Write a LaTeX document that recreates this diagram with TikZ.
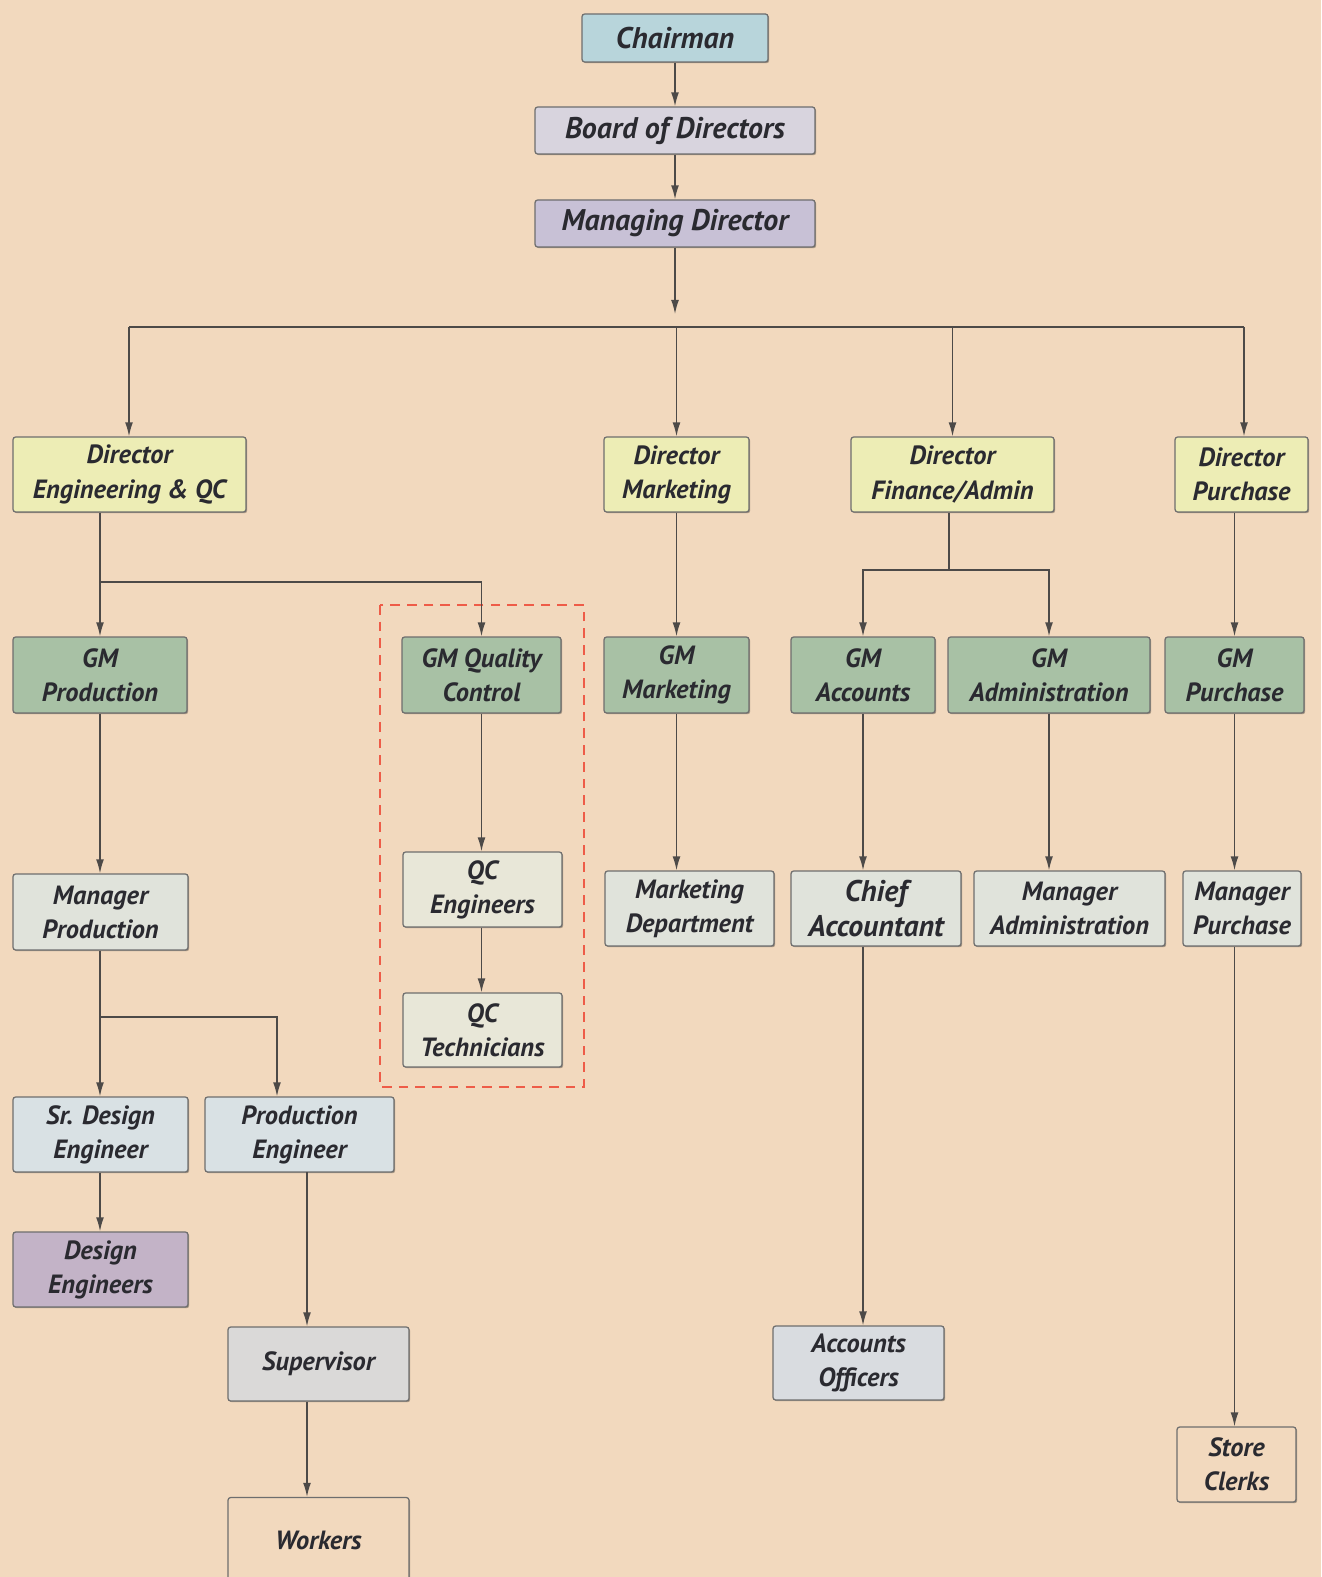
\documentclass[tikz,border=0pt]{standalone}
\usepackage{fontspec}
\setmainfont{PT Sans}
\usetikzlibrary{arrows.meta,shadows}
\definecolor{paper}{HTML}{F2D9BE}
\definecolor{cchair}{HTML}{B8D5DB}
\definecolor{cboard}{HTML}{D8D4DE}
\definecolor{cmd}{HTML}{C8C1D6}
\definecolor{cdir}{HTML}{EDEDB5}
\definecolor{cgm}{HTML}{A8C1A5}
\definecolor{cmgr}{HTML}{E0E3DB}
\definecolor{cqc}{HTML}{E8E7D8}
\definecolor{ceng}{HTML}{D9E1E4}
\definecolor{cdes}{HTML}{C3B3C7}
\definecolor{csup}{HTML}{DAD9D8}
\definecolor{caccoff}{HTML}{D9DCE0}
\definecolor{boxedge}{HTML}{6E6E6E}
\definecolor{wirecol}{HTML}{4D4A48}
\definecolor{ink}{HTML}{2A2A30}
\definecolor{qcred}{HTML}{EE5C48}
\begin{document}
\begin{tikzpicture}[x=0.02cm,y=-0.02cm,
    box/.style={draw=boxedge,line width=0.7pt,rounded corners=1.5pt,align=center,
      inner sep=1pt,text=ink,font=\fontsize{15}{19.4}\selectfont\bfseries\itshape,
      minimum height=1.5cm,
      drop shadow={shadow xshift=0.7pt,shadow yshift=-0.7pt,opacity=0.3,fill=black}},
    big/.style={font=\fontsize{17}{20}\selectfont\bfseries\itshape},
    wire/.style={draw=wirecol,line width=0.8pt},
    arr/.style={wire,-{Latex[length=8pt,width=4.5pt]}},
    qcframe/.style={draw=qcred,line width=1.6pt,dash pattern=on 5.5pt off 4pt}]
  \clip (0,0) rectangle (1321,1577);
  \fill[paper] (0,0) rectangle (1321,1577);
  \draw[qcframe] (380,605) rectangle (584,1087);
  \node[box,big,fill=cchair,minimum width=3.72cm,minimum height=0.96cm] (chairman) at (675,38) {Chairman};
  \node[box,big,fill=cboard,minimum width=5.6cm,minimum height=0.94cm] (board) at (675,130.5) {Board of Directors};
  \node[box,big,fill=cmd,minimum width=5.6cm,minimum height=0.94cm] (md) at (675,223.5) {Managing Director};
  \node[box,fill=cdir,minimum width=4.66cm] (direng) at (129.5,474.5) {Director\\Engineering \& QC};
  \node[box,fill=cdir,minimum width=2.9cm] (dirmkt) at (676.5,474.5) {Director\\Marketing};
  \node[box,fill=cdir,minimum width=4.06cm] (dirfin) at (952.5,474.5) {Director\\Finance/Admin};
  \node[box,fill=cdir,minimum width=2.66cm] (dirpur) at (1241.5,474.5) {Director\\Purchase};
  \node[box,fill=cgm,minimum width=3.48cm,minimum height=1.52cm] (gmprod) at (100,675) {GM\\Production};
  \node[box,fill=cgm,minimum width=3.18cm,minimum height=1.52cm] (gmqc) at (481.5,675) {GM Quality\\Control};
  \node[box,fill=cgm,minimum width=2.9cm,minimum height=1.52cm] (gmmkt) at (676.5,675) {GM\\Marketing};
  \node[box,fill=cgm,minimum width=2.88cm,minimum height=1.52cm] (gmacc) at (863,675) {GM\\Accounts};
  \node[box,fill=cgm,minimum width=4.04cm,minimum height=1.52cm] (gmadm) at (1049,675) {GM\\Administration};
  \node[box,fill=cgm,minimum width=2.78cm,minimum height=1.52cm] (gmpur) at (1234.5,675) {GM\\Purchase};
  \node[box,fill=cmgr,minimum width=3.5cm,minimum height=1.52cm] (mgrprod) at (100.5,912) {Manager\\Production};
  \node[box,fill=cqc,minimum width=3.18cm] (qceng) at (482.5,889.5) {QC\\Engineers};
  \node[box,fill=cmgr,minimum width=3.38cm] (mktdept) at (689.5,908.5) {Marketing\\Department};
  \node[box,big,fill=cmgr,minimum width=3.4cm] (chiefacc) at (876,908.5) {Chief\\Accountant};
  \node[box,fill=cmgr,minimum width=3.82cm] (mgradm) at (1069.5,908.5) {Manager\\Administration};
  \node[box,fill=cmgr,minimum width=2.36cm] (mgrpur) at (1242,908.5) {Manager\\Purchase};
  \node[box,fill=cqc,minimum width=3.18cm,minimum height=1.48cm] (qctech) at (482.5,1030) {QC\\Technicians};
  \node[box,fill=ceng,minimum width=3.5cm] (srdes) at (100.5,1134.5) {Sr. Design\\Engineer};
  \node[box,fill=ceng,minimum width=3.78cm] (prodeng) at (299.5,1134.5) {Production\\Engineer};
  \node[box,fill=cdes,minimum width=3.5cm] (deseng) at (100.5,1269.5) {Design\\Engineers};
  \node[box,fill=csup,minimum width=3.62cm,minimum height=1.48cm] (super) at (318.5,1364) {Supervisor};
  \node[box,fill=paper,minimum width=3.62cm,minimum height=1.7cm] (workers) at (318.5,1540) {Workers};
  \node[box,fill=caccoff,minimum width=3.42cm,minimum height=1.48cm] (accoff) at (858.5,1363) {Accounts\\Officers};
  \node[box,fill=paper,minimum width=2.38cm] (clerks) at (1236.5,1464.5) {Store\\Clerks};
  \coordinate (mdend) at (675,314);
  \coordinate (busL) at (129,327);
  \coordinate (busR) at (1244,327);
  \coordinate (engfork) at (100,582);
  \coordinate (finfork) at (949,570);
  \coordinate (prodfork) at (100,1017);
  \coordinate (pecol) at (277,1017);
  \coordinate (supcol) at (307,1172);
  \begin{scope}[arr]
    \draw (chairman) -- (board);
    \draw (board) -- (md);
    \draw (md) -- (mdend);
    \draw (busL) -- (busL |- direng.north);
    \draw (busL -| dirmkt) -- (dirmkt);
    \draw (busL -| dirfin) -- (dirfin);
    \draw (busR) -- (busR |- dirpur.north);
    \draw (direng.south -| gmprod) -- (gmprod);
    \draw (engfork) -| (gmqc);
    \draw (dirmkt) -- (dirmkt |- gmmkt.north);
    \draw (finfork) -| (gmacc);
    \draw (finfork) -| (gmadm);
    \draw (dirpur.south -| gmpur) -- (gmpur);
    \draw (gmprod) -- (gmprod |- mgrprod.north);
    \draw (gmqc) -- (gmqc |- qceng.north);
    \draw (gmmkt) -- (gmmkt |- mktdept.north);
    \draw (gmacc) -- (gmacc |- chiefacc.north);
    \draw (gmadm) -- (gmadm |- mgradm.north);
    \draw (gmpur) -- (gmpur |- mgrpur.north);
    \draw (gmqc |- qceng.south) -- (gmqc |- qctech.north);
    \draw (mgrprod.south -| gmprod) -- (gmprod |- srdes.north);
    \draw (prodfork) -- (pecol) -- (pecol |- prodeng.north);
    \draw (gmprod |- srdes.south) -- (gmprod |- deseng.north);
    \draw (supcol) -- (supcol |- super.north);
    \draw (supcol |- super.south) -- (supcol |- workers.north);
    \draw (gmacc |- chiefacc.south) -- (gmacc |- accoff.north);
    \draw (gmpur |- mgrpur.south) -- (gmpur |- clerks.north);
  \end{scope}
  \begin{scope}[wire]
    \draw (busL) -- (busR);
    \draw (dirfin.south -| finfork) -- (finfork);
  \end{scope}
\end{tikzpicture}
\end{document}
